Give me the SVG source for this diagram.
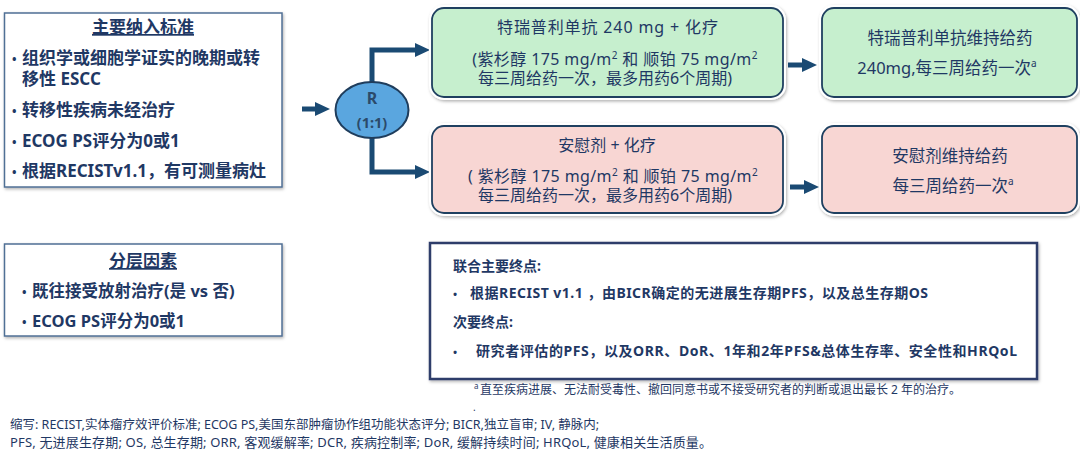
<svg xmlns="http://www.w3.org/2000/svg" width="1080" height="454" viewBox="0 0 1080 454">
<defs>
<style>
.t{font-family:"Noto Sans","Noto Sans CJK SC",sans-serif;fill:#1f3864;}
.b{font-weight:bold;}
.c{text-anchor:middle;}
.conn{fill:none;stroke:#1a4a73;stroke-width:5;stroke-linejoin:miter;}
.glow{fill:#fff;stroke:#fff;stroke-width:6;}
.arm{stroke:#1f4060;stroke-width:1.8;}
.green{fill:#c6efce;}
.pink{fill:#f8d6d3;}
.lbox{fill:#fff;stroke:#4f6f95;stroke-width:1.5;}
</style>
<marker id="ah" markerUnits="userSpaceOnUse" markerWidth="15" markerHeight="14" viewBox="0 0 15 14" refX="0" refY="7" orient="auto">
<path d="M0,0 L15,7 L0,14 z" fill="#1a4a73"/>
</marker>
<filter id="sh" x="-5%" y="-10%" width="112%" height="125%">
<feDropShadow dx="1" dy="1.5" stdDeviation="1.5" flood-color="#000" flood-opacity="0.3"/>
</filter>
</defs>
<rect x="0" y="0" width="1080" height="454" fill="#fff"/>

<g id="connectors">
<path class="conn" d="M302,109 H315" marker-end="url(#ah)"/>
<path class="conn" d="M372,86 V50 H415" marker-end="url(#ah)"/>
<path class="conn" d="M372,134 V172 H415" marker-end="url(#ah)"/>
<path class="conn" d="M788,65 H802" marker-end="url(#ah)"/>
<path class="conn" d="M790,187 H804" marker-end="url(#ah)"/>
</g>

<g id="inclusion">
<rect class="lbox" x="4.5" y="13" width="277.5" height="174" filter="url(#sh)"/>
<text class="t b c" x="143" y="33" font-size="17" text-decoration="underline">主要纳入标准</text>
<text class="t b" x="12" y="64" font-size="17"><tspan font-size="12">•</tspan><tspan x="22">组织学或细胞学证实的晚期或转</tspan></text>
<text class="t b" x="22" y="85" font-size="17">移性 ESCC</text>
<text class="t b" x="12" y="116" font-size="17"><tspan font-size="12">•</tspan><tspan x="22">转移性疾病未经治疗</tspan></text>
<text class="t b" x="12" y="147" font-size="17"><tspan font-size="12">•</tspan><tspan x="22">ECOG PS评分为0或1</tspan></text>
<text class="t b" x="12" y="177" font-size="17"><tspan font-size="12">•</tspan><tspan x="22">根据RECISTv1.1，有可测量病灶</tspan></text>
</g>

<g id="strat">
<rect class="lbox" x="4.5" y="244" width="277.5" height="92" filter="url(#sh)"/>
<text class="t b c" x="143" y="267" font-size="17" text-decoration="underline">分层因素</text>
<text class="t b" x="22" y="297" font-size="16.5"><tspan font-size="12">•</tspan><tspan x="32">既往接受放射治疗(是 vs 否)</tspan></text>
<text class="t b" x="22" y="327" font-size="16.5"><tspan font-size="12">•</tspan><tspan x="32">ECOG PS评分为0或1</tspan></text>
</g>

<g id="randomize">
<ellipse cx="372" cy="110" rx="36.5" ry="28" fill="#5aa6df" stroke="#1f3d5c" stroke-width="2"/>
<text class="c b" x="372" y="104" font-size="16" font-family="Noto Sans, sans-serif" fill="#2b4a6a">R</text>
<text class="c b" x="372" y="128" font-size="14.5" font-family="Noto Sans, sans-serif" fill="#2b4a6a">(1:1)</text>
</g>

<g id="arm-toripalimab">
<rect class="glow" x="432" y="8" width="351" height="89" rx="12" filter="url(#sh)"/>
<rect class="arm green" x="432" y="8" width="351" height="89" rx="12"/>
<text class="t" x="497" y="33" font-size="16" textLength="221">特瑞普利单抗 240 mg + 化疗</text>
<text class="t c" x="615" y="65" font-size="16" letter-spacing="0.4">(紫杉醇 175 mg/m<tspan font-size="10" baseline-shift="6">2</tspan> 和 顺铂 75 mg/m<tspan font-size="10" baseline-shift="6">2</tspan></text>
<text class="t c" x="605" y="84" font-size="16">每三周给药一次，最多用药6个周期)</text>
</g>

<g id="arm-placebo">
<rect class="glow" x="432" y="126" width="351" height="87" rx="12" filter="url(#sh)"/>
<rect class="arm pink" x="432" y="126" width="351" height="87" rx="12"/>
<text class="t c" x="607" y="151" font-size="16">安慰剂 + 化疗</text>
<text class="t c" x="613" y="182" font-size="16" letter-spacing="0.4">( 紫杉醇 175 mg/m<tspan font-size="10" baseline-shift="6">2</tspan> 和 顺铂 75 mg/m<tspan font-size="10" baseline-shift="6">2</tspan></text>
<text class="t c" x="605" y="201" font-size="16">每三周给药一次，最多用药6个周期)</text>
</g>

<g id="maint-toripalimab">
<rect class="glow" x="822" y="8" width="255" height="89" rx="12" filter="url(#sh)"/>
<rect class="arm green" x="822" y="8" width="255" height="89" rx="12"/>
<text class="t c" x="950" y="44" font-size="16.5">特瑞普利单抗维持给药</text>
<text class="t c" x="947" y="74" font-size="16.5">240mg,每三周给药一次<tspan font-size="10" baseline-shift="7">a</tspan></text>
</g>

<g id="maint-placebo">
<rect class="glow" x="822" y="126" width="255" height="87" rx="12" filter="url(#sh)"/>
<rect class="arm pink" x="822" y="126" width="255" height="87" rx="12"/>
<text class="t c" x="950" y="162" font-size="16.5">安慰剂维持给药</text>
<text class="t c" x="953" y="192" font-size="16.5">每三周给药一次<tspan font-size="10" baseline-shift="7">a</tspan></text>
</g>

<g id="endpoints">
<rect x="430" y="243" width="607" height="136" fill="#fff" stroke="#2e3c6a" stroke-width="2.5" filter="url(#sh)"/>
<text class="t b" x="453" y="271" font-size="14">联合主要终点:</text>
<text class="t b" x="453" y="298" font-size="11">•</text>
<text class="t b" x="470" y="298" font-size="14" textLength="458">根据RECIST v1.1 ，由BICR确定的无进展生存期PFS，以及总生存期OS</text>
<text class="t b" x="453" y="327" font-size="14">次要终点:</text>
<text class="t b" x="453" y="356" font-size="11">•</text>
<text class="t b" x="476" y="356" font-size="14" textLength="541">研究者评估的PFS，以及ORR、DoR、1年和2年PFS&amp;总体生存率、安全性和HRQoL</text>
</g>

<g id="footnotes">
<text class="t" x="474" y="394" font-size="12"><tspan font-size="8" baseline-shift="5">a</tspan><tspan x="480">直至疾病进展、无法耐受毒性、撤回同意书或不接受研究者的判断或退出最长 2 年的治疗。</tspan></text>
<text class="t" x="473" y="411" font-size="10">.</text>
<text class="t" x="10" y="429" font-size="12.5">缩写: RECIST,实体瘤疗效评价标准; ECOG PS,美国东部肿瘤协作组功能状态评分; BICR,独立盲审; IV, 静脉内;</text>
<text class="t" x="10" y="447" font-size="13" textLength="702">PFS, 无进展生存期; OS, 总生存期; ORR, 客观缓解率; DCR, 疾病控制率; DoR, 缓解持续时间; HRQoL, 健康相关生活质量。</text>
</g>
</svg>
